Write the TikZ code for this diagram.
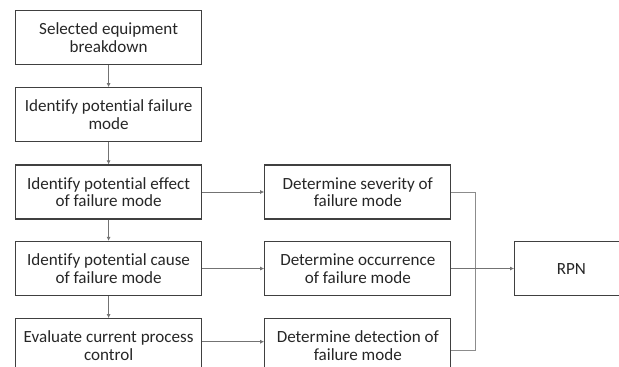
\documentclass[tikz,border=0pt]{standalone}
\usepackage{fontspec}
\setmainfont[Ligatures=NoCommon]{Carlito}
\usetikzlibrary{arrows.meta, positioning}

\begin{document}
\begin{tikzpicture}[
    node distance=16.5pt and 46.5pt,
    block/.style={draw=black!75, line width=0.9pt, minimum width=139.5pt,
                  minimum height=40.5pt, align=center, text=black!85,
                  font=\fontsize{12.8}{13}\selectfont, inner sep=2pt},
    arrow/.style={-{Latex[length=3pt, width=3pt]}, draw=black!55, line width=0.6pt},
    link/.style={draw=black!45, line width=0.6pt},
]
    \useasboundingbox (0,0) rectangle (464.25pt,-275.25pt);
    \clip (0,0) rectangle (464.25pt,-275.25pt);

    % Left column
    \node[block, anchor=north west] (sel) at (11.25pt,-7.5pt) {Selected equipment\\breakdown};
    \node[block, below=of sel]   (mode)   {Identify potential failure\\mode};
    \node[block, below=of mode]  (effect) {Identify potential effect\\of failure mode};
    \node[block, below=16pt of effect] (cause) {Identify potential cause\\of failure mode};
    \node[block, below=16.5pt of cause]  (ctrl)   {Evaluate current process\\control};

    % Right column
    \node[block, right=of effect] (sev) {Determine severity of\\failure mode};
    \node[block, right=of cause]  (occ) {Determine occurrence\\of failure mode};
    \node[block, right=of ctrl]   (det) {Determine detection of\\failure mode};

    % RPN
    \node[block, minimum width=85pt, right=47pt of occ] (rpn) {RPN};
    \coordinate (join) at ([xshift=18pt]occ.east);

    % Arrows
    \draw[arrow] (sel) -- (mode);
    \draw[arrow] (mode) -- (effect);
    \draw[arrow] (effect) -- (cause);
    \draw[arrow] (cause) -- (ctrl);
    \draw[arrow] (effect) -- (sev);
    \draw[arrow] (cause) -- (occ);
    \draw[arrow] ([yshift=3pt]ctrl.east) -- ([yshift=3pt]det.west);
    \draw[link] (sev.east) -| (join);
    \draw[link] ([yshift=-3.75pt]det.east) -| (join);
    \draw[arrow] (occ) -- (rpn);
\end{tikzpicture}
\end{document}
